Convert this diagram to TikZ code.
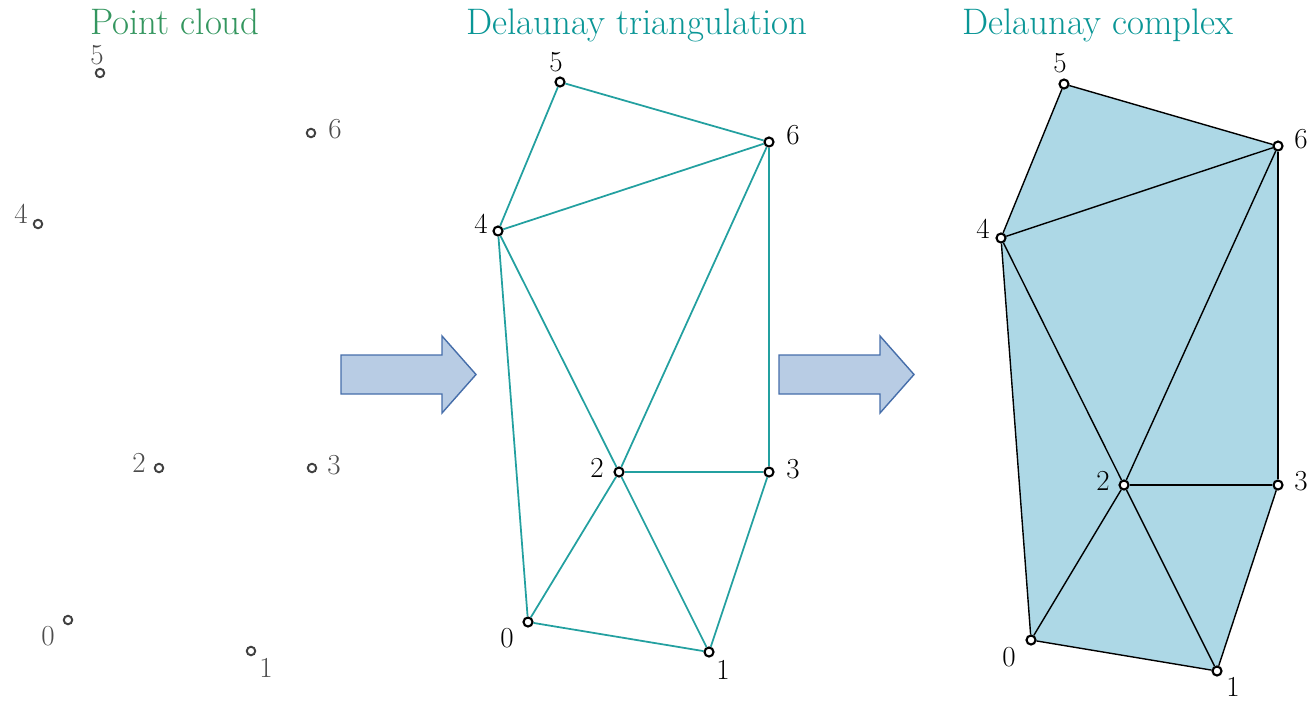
\documentclass[tikz,border=0pt]{standalone}
\usepackage{tikz}
\usetikzlibrary{positioning,backgrounds}
\definecolor{cloudgreen}{RGB}{52,150,95}
\definecolor{delteal}{RGB}{10,150,150}
\definecolor{edgeteal}{RGB}{35,160,160}
\definecolor{cplxfill}{RGB}{173,216,230}
\definecolor{arrowfill}{RGB}{184,204,228}
\definecolor{arrowdraw}{RGB}{70,110,170}

\begin{document}
\begin{tikzpicture}[x=0.02cm,y=-0.02cm,
  pcpt/.style={circle,draw=black!75,fill=white,line width=1.1pt,inner sep=0pt,minimum size=0.17cm},
  vtx/.style={circle,draw=black,fill=white,line width=1.2pt,inner sep=0pt,minimum size=0.18cm},
  pclbl/.style={inner sep=0pt,font=\fontsize{16.5}{20}\selectfont,text=black!70},
  vlbl/.style={inner sep=0pt,font=\fontsize{16.5}{20}\selectfont},
  ttl/.style={anchor=base,inner sep=0pt,font=\fontsize{21}{25}\selectfont},
  dtedge/.style={edgeteal,line width=1pt},
  dcedge/.style={black,line width=0.8pt},
  bigarrow/.style={fill=arrowfill,draw=arrowdraw,line width=0.8pt,line join=miter},
]
  \useasboundingbox (0,0) rectangle (1310,701);

  % titles
  \node[ttl,text=cloudgreen] (tpc) at (175,34) {Point cloud};
  \node[ttl,text=delteal] (tdt) at (637,34) {Delaunay triangulation};
  \node[ttl,text=delteal] (tdc) at (1098,34) {Delaunay complex};

  % point cloud
  \foreach \i/\x/\y/\lx/\ly in {0/68/620/48/636,1/251/651/266/668,2/159/468/139/463,
      3/312/468/334/465,4/38/224/21/214,5/100/73/97/55,6/311/133/335/129} {
    \node[pcpt] (pc\i) at (\x,\y) {};
    \node[pclbl] (pcl\i) at (\lx,\ly) {\i};
  }

  % arrows
  \foreach \dx in {0,438} {
    \draw[bigarrow,shift={(\dx,0)}] (341,355) -- (442,355) -- (442,336) -- (476,374.5)
      -- (442,413) -- (442,394) -- (341,394) -- cycle;
  }

  % Delaunay triangulation
  \foreach \i/\x/\y/\lx/\ly in {0/528/622/507/638,1/709/652/723/670,2/619/472/597/468,
      3/769/472/793/469,4/498/231/481/224,5/560/82/556/62,6/769/142/793/135} {
    \node[vtx] (dt\i) at (\x,\y) {};
    \node[vlbl] (dtl\i) at (\lx,\ly) {\i};
  }
  \foreach \a/\b in {5/6,5/4,4/6,4/2,4/0,6/2,6/3,2/3,2/0,2/1,0/1,1/3}
    \draw[dtedge] (dt\a) -- (dt\b);

  % Delaunay complex
  \foreach \i/\x/\y/\lx/\ly in {0/1031/640/1009/657,1/1217/671/1233/687,2/1124/485/1103/481,
      3/1278/485/1301/481,4/1001/238/983/229,5/1064/84/1060/63,6/1278/146/1301/139} {
    \node[vtx] (dc\i) at (\x,\y) {};
    \node[vlbl] (dcl\i) at (\lx,\ly) {\i};
  }
  \begin{scope}[on background layer]
    \fill[cplxfill] (dc0.center) -- (dc1.center) -- (dc3.center) -- (dc6.center)
      -- (dc5.center) -- (dc4.center) -- cycle;
  \end{scope}
  \foreach \a/\b in {5/6,5/4,4/6,4/2,4/0,6/2,6/3,2/3,2/0,2/1,0/1,1/3}
    \draw[dcedge] (dc\a) -- (dc\b);
\end{tikzpicture}
\end{document}
